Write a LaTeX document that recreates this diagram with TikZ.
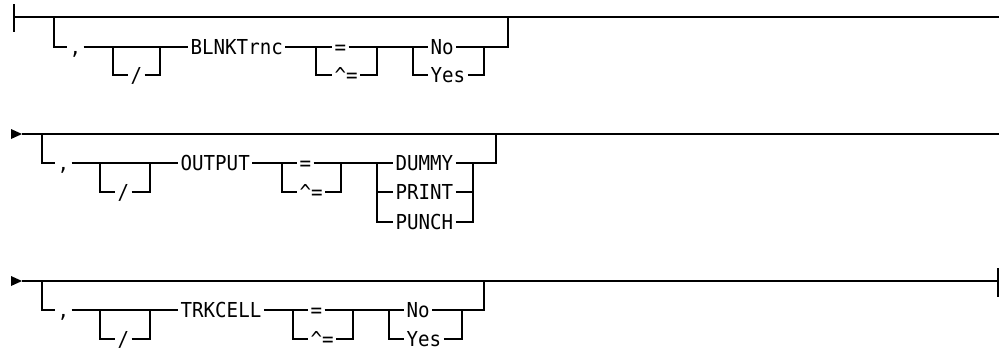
\documentclass[tikz,border=0pt]{standalone}
\usepackage{fontspec}
\newfontfamily\kwfont{DejaVu Sans Mono}[FakeStretch=0.93]
\tikzset{
  kw/.style={font=\kwfont\fontsize{20.6bp}{20.6bp}\selectfont, inner xsep=2bp, inner ysep=0pt,
    text height=15bp, text depth=0pt, anchor=west},
  rail/.style={line width=1.2bp, black},
  arrowhead/.style={fill=black}
}
\begin{document}
\begin{tikzpicture}[x=1bp,y=-1bp, rail]
\useasboundingbox (0,0) rectangle (999,350);

% ---------- Row 1 ----------
\coordinate (r1s) at (14,17);
\coordinate (r1e) at (999,17);
\draw (14,4) -- (14,32);
\draw (r1s) -- (r1e);
\node[kw] (c1) at (67,47) {,};
\node[kw] (s1) at (128,75) {/};
\node[kw] (kw1) at (188,47) {BLNKTrnc};
\node[kw] (eq1) at (332,47) {=};
\node[kw] (neq1) at (332,75) {\^{}=};
\node[kw] (no1) at (428,47) {No};
\node[kw] (yes1) at (428,75) {Yes};
\coordinate (b1) at (54,17);
\coordinate (sl1) at (113,47);
\coordinate (sr1) at (160,47);
\coordinate (el1) at (316,47);
\coordinate (er1) at (377,47);
\coordinate (ol1) at (413,47);
\coordinate (or1) at (484,47);
\coordinate (up1) at (508,17);
\draw (b1) |- (c1.west);
\draw (c1.east) -- (kw1.west);
\draw (sl1) |- (s1.west);
\draw (s1.east) -| (sr1);
\draw (kw1.east) -- (eq1.west);
\draw (eq1.east) -- (no1.west);
\draw (el1) |- (neq1.west);
\draw (neq1.east) -| (er1);
\draw (ol1) |- (yes1.west);
\draw (yes1.east) -| (or1);
\draw (no1.east) -| (up1);

% ---------- Row 2 ----------
\coordinate (r2s) at (22,134);
\coordinate (r2e) at (999,134);
\fill[arrowhead] (11,129) -- (r2s) -- (11,139) -- cycle;
\draw (r2s) -- (r2e);
\node[kw] (c2) at (55,163) {,};
\node[kw] (s2) at (115,192) {/};
\node[kw] (kw2) at (178,163) {OUTPUT};
\node[kw] (eq2) at (297,163) {=};
\node[kw] (neq2) at (297,192) {\^{}=};
\node[kw] (d2) at (393,163) {DUMMY};
\node[kw] (p2) at (393,192) {PRINT};
\node[kw] (u2) at (393,222) {PUNCH};
\coordinate (b2) at (42,134);
\coordinate (sl2) at (100,163);
\coordinate (sr2) at (150,163);
\coordinate (el2) at (282,163);
\coordinate (er2) at (341,163);
\coordinate (ol2) at (377,163);
\coordinate (or2) at (473,163);
\coordinate (up2) at (496,134);
\draw (b2) |- (c2.west);
\draw (c2.east) -- (kw2.west);
\draw (sl2) |- (s2.west);
\draw (s2.east) -| (sr2);
\draw (kw2.east) -- (eq2.west);
\draw (eq2.east) -- (d2.west);
\draw (el2) |- (neq2.west);
\draw (neq2.east) -| (er2);
\draw (ol2) |- (p2.west);
\draw (ol2) |- (u2.west);
\draw (p2.east) -- (p2.east -| or2);
\draw (u2.east) -| (or2);
\draw (d2.east) -| (up2);

% ---------- Row 3 ----------
\coordinate (r3s) at (22,281);
\coordinate (r3e) at (998,281);
\fill[arrowhead] (11,276) -- (r3s) -- (11,286) -- cycle;
\draw (r3s) -- (r3e);
\draw (998,268) -- (998,297);
\node[kw] (c3) at (55,310) {,};
\node[kw] (s3) at (115,339) {/};
\node[kw] (kw3) at (178,310) {TRKCELL};
\node[kw] (eq3) at (308,310) {=};
\node[kw] (neq3) at (308,339) {\^{}=};
\node[kw] (no3) at (404,310) {No};
\node[kw] (yes3) at (404,339) {Yes};
\coordinate (b3) at (42,281);
\coordinate (sl3) at (100,310);
\coordinate (sr3) at (150,310);
\coordinate (el3) at (293,310);
\coordinate (er3) at (353,310);
\coordinate (ol3) at (389,310);
\coordinate (or3) at (462,310);
\coordinate (up3) at (484,281);
\draw (b3) |- (c3.west);
\draw (c3.east) -- (kw3.west);
\draw (sl3) |- (s3.west);
\draw (s3.east) -| (sr3);
\draw (kw3.east) -- (eq3.west);
\draw (eq3.east) -- (no3.west);
\draw (el3) |- (neq3.west);
\draw (neq3.east) -| (er3);
\draw (ol3) |- (yes3.west);
\draw (yes3.east) -| (or3);
\draw (no3.east) -| (up3);
\end{tikzpicture}
\end{document}
